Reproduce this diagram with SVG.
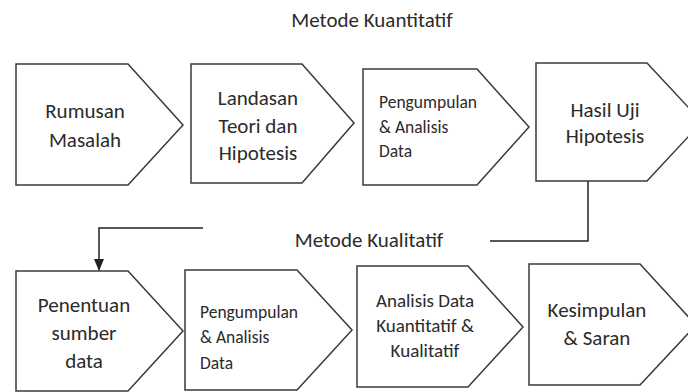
<svg xmlns="http://www.w3.org/2000/svg" width="688" height="392" viewBox="0 0 688 392">
<style>
.s{fill:#fff;stroke:#3a3a3a;stroke-width:1.5}
.t{font-family:Carlito,Lato,"Liberation Sans",sans-serif;fill:#2b2b2b}
.c{text-anchor:middle;font-size:21px}
.l{font-size:17.5px}
.h{font-size:19px;text-anchor:middle}
.g{font-size:21px;text-anchor:middle}
.e{fill:none;stroke:#222;stroke-width:1.5}
</style>
<defs><marker id="a" markerWidth="12" markerHeight="10" refX="11" refY="5" orient="auto" markerUnits="userSpaceOnUse" viewBox="0 0 12 10"><path d="M0,0 L12,5 L0,10 Z" fill="#222"/></marker></defs>
<rect width="688" height="392" fill="#fff"/>
<text class="t g" x="372" y="27">Metode Kuantitatif</text>
<text class="t g" x="369" y="247">Metode Kualitatif</text>
<g id="connectors">
<path class="e" d="M588,181 V241 H490"/>
<path class="e" d="M203,228 H99 V270" marker-end="url(#a)"/>
</g>
<g id="n1"><path class="s" d="M16,64 H128 L183,125 L128,185 H16 Z"/><text class="t c" x="85" y="118">Rumusan</text><text class="t c" x="85" y="147">Masalah</text></g>
<g id="n2"><path class="s" d="M191,64 H302 L354,123 L302,183 H191 Z"/><text class="t c" x="258" y="105">Landasan</text><text class="t c" x="258" y="133">Teori dan</text><text class="t c" x="258" y="160">Hipotesis</text></g>
<g id="n3"><path class="s" d="M363,69 H477 L529,127 L477,185 H363 Z"/><text class="t l" x="379" y="108">Pengumpulan</text><text class="t l" x="379" y="133">&amp; Analisis</text><text class="t l" x="379" y="157">Data</text></g>
<g id="n4"><path class="s" d="M536,63 H647 L702,122 L647,181 H536 Z"/><text class="t c" x="605" y="117">Hasil Uji</text><text class="t c" x="605" y="143">Hipotesis</text></g>
<g id="n5"><path class="s" d="M16,271 H128 L183,331 L128,391 H16 Z"/><text class="t c" x="84" y="312">Penentuan</text><text class="t c" x="84" y="340">sumber</text><text class="t c" x="84" y="368">data</text></g>
<g id="n6"><path class="s" d="M185,270 H297 L352,330 L297,390 H185 Z"/><text class="t l" x="200" y="318">Pengumpulan</text><text class="t l" x="200" y="343">&amp; Analisis</text><text class="t l" x="200" y="369">Data</text></g>
<g id="n7"><path class="s" d="M357,266 H468 L523,327 L468,387 H357 Z"/><text class="t h" x="425" y="307">Analisis Data</text><text class="t h" x="425" y="332">Kuantitatif &amp;</text><text class="t h" x="425" y="357">Kualitatif</text></g>
<g id="n8"><path class="s" d="M529,264 H640 L696,325 L640,385 H529 Z"/><text class="t c" x="597" y="317">Kesimpulan</text><text class="t c" x="597" y="345">&amp; Saran</text></g>
</svg>
